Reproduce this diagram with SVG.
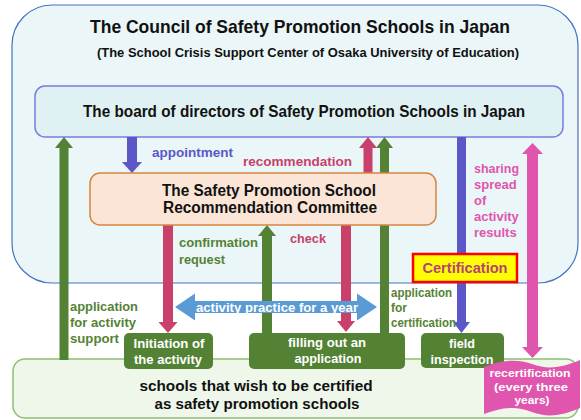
<svg xmlns="http://www.w3.org/2000/svg" width="581" height="420" viewBox="0 0 581 420">
<style>
text{font-family:"Liberation Sans","Noto Sans",Arial,sans-serif;font-weight:bold}
.blk{fill:#111}
.wht{fill:#fff}
.grn{fill:#548235}
.red{fill:#c9406a}
.pur{fill:#5b57c9}
.pnk{fill:#e055ad}
.gbox{fill:#548235}
</style>
<rect x="0" y="0" width="581" height="420" fill="#fff"/>
<g id="council">
<rect x="12" y="5" width="566" height="278" rx="40" ry="40" fill="#eaf6f7" stroke="#4472c4" stroke-width="1.2"/>
<text class="blk" x="300" y="33" font-size="19" text-anchor="middle" textLength="420" lengthAdjust="spacingAndGlyphs">The Council of Safety Promotion Schools in Japan</text>
<text class="blk" x="308" y="57" font-size="13.5" text-anchor="middle" textLength="422" lengthAdjust="spacingAndGlyphs">(The School Crisis Support Center of Osaka University of Education)</text>
</g>
<g id="schools">
<rect x="13" y="359" width="565" height="59" rx="12" ry="12" fill="#eef7e9" stroke="#8fbf72" stroke-width="1.5"/>
<text class="blk" x="256" y="391" font-size="15.5" text-anchor="middle" textLength="233" lengthAdjust="spacingAndGlyphs">schools that wish to be certified</text>
<text class="blk" x="257" y="409" font-size="15.5" text-anchor="middle" textLength="205" lengthAdjust="spacingAndGlyphs">as safety promotion schools</text>
</g>
<g id="board">
<rect x="35" y="86" width="528" height="51" rx="10" ry="10" fill="#dff1f2" stroke="#7b7be0" stroke-width="1.5"/>
<text class="blk" x="304" y="117" font-size="17" text-anchor="middle" textLength="442" lengthAdjust="spacingAndGlyphs">The board of directors of Safety Promotion Schools in Japan</text>
</g>
<g id="connectors">
<polygon fill="#548235" points="59.5,360 59.5,148 55,148 64,137 73,148 68.5,148 68.5,360"/>
<polygon fill="#5b57c9" points="127,137 137,137 137,162 142,162 132,173 122,162 127,162"/>
<polygon fill="#548235" points="380,333 380,148 376,148 384.5,137 393,148 389,148 389,333"/>
<polygon fill="#c9406a" points="363.5,173 363.5,148 359,148 368,137 377,148 372.5,148 372.5,173"/>
<polygon fill="#c9406a" points="163,225 173,225 173,322 177.5,322 168,333 158.5,322 163,322"/>
<polygon fill="#548235" points="262,333 262,236 258,236 267,225 276,236 272,236 272,333"/>
<polygon fill="#c9406a" points="341,225 351,225 351,321 355,321 346,332 337,321 341,321"/>
<polygon fill="#5b57c9" points="457,137 466,137 466,322 470,322 461.5,333 453,322 457,322"/>
<polygon fill="#e055ad" points="532.5,143 543,154 538,154 538,347 543,347 532.5,358 522,347 527,347 527,154 522,154"/>
<polygon fill="#5b9bd5" points="175,307 195,293.5 195,301 357,301 357,293.5 377,307 357,320.5 357,313 195,313 195,320.5"/>
<text class="wht" x="277" y="311.5" font-size="12.5" text-anchor="middle" textLength="162" lengthAdjust="spacingAndGlyphs">activity practice for a year</text>
<text class="pur" x="152" y="157" font-size="13" textLength="81" lengthAdjust="spacingAndGlyphs">appointment</text>
<text class="red" x="243" y="166" font-size="13" textLength="109" lengthAdjust="spacingAndGlyphs">recommendation</text>
<text class="grn" x="179" y="247" font-size="13" textLength="79" lengthAdjust="spacingAndGlyphs">confirmation</text>
<text class="grn" x="179" y="264" font-size="13" textLength="46" lengthAdjust="spacingAndGlyphs">request</text>
<text class="red" x="290" y="243" font-size="13" textLength="36" lengthAdjust="spacingAndGlyphs">check</text>
<text class="grn" x="70" y="311" font-size="13" textLength="68" lengthAdjust="spacingAndGlyphs">application</text>
<text class="grn" x="70" y="327" font-size="13" textLength="66" lengthAdjust="spacingAndGlyphs">for activity</text>
<text class="grn" x="70" y="343" font-size="13" textLength="49" lengthAdjust="spacingAndGlyphs">support</text>
<text class="grn" x="391" y="297" font-size="12" textLength="61" lengthAdjust="spacingAndGlyphs">application</text>
<text class="grn" x="391" y="312" font-size="12">for</text>
<text class="grn" x="391" y="327" font-size="12" textLength="65" lengthAdjust="spacingAndGlyphs">certification</text>
<text class="pnk" x="474" y="173" font-size="13" textLength="45" lengthAdjust="spacingAndGlyphs">sharing</text>
<text class="pnk" x="474" y="189" font-size="13">spread</text>
<text class="pnk" x="474" y="205" font-size="13">of</text>
<text class="pnk" x="474" y="221" font-size="13">activity</text>
<text class="pnk" x="474" y="237" font-size="13">results</text>
</g>
<g id="committee">
<rect x="90" y="173" width="346" height="52" rx="10" ry="10" fill="#fbe5d6" stroke="#d98542" stroke-width="1.5"/>
<text class="blk" x="269" y="196" font-size="16" text-anchor="middle" textLength="214" lengthAdjust="spacingAndGlyphs">The Safety Promotion School</text>
<text class="blk" x="270" y="213" font-size="16" text-anchor="middle" textLength="214" lengthAdjust="spacingAndGlyphs">Recommendation Committee</text>
</g>
<g id="certification">
<rect x="413" y="254" width="104" height="28" fill="#ffff00" stroke="#ff0000" stroke-width="2.5"/>
<text x="465" y="273" font-size="15" text-anchor="middle" fill="#b8407a" textLength="85" lengthAdjust="spacingAndGlyphs">Certification</text>
</g>
<g id="initiation">
<rect x="124" y="333" width="89" height="36" rx="5" ry="5" class="gbox"/>
<text class="wht" x="169" y="348" font-size="13" text-anchor="middle" textLength="71" lengthAdjust="spacingAndGlyphs">Initiation of</text>
<text class="wht" x="168" y="364" font-size="13" text-anchor="middle" textLength="68" lengthAdjust="spacingAndGlyphs">the activity</text>
</g>
<g id="filling">
<rect x="249" y="333" width="156" height="36" rx="5" ry="5" class="gbox"/>
<text class="wht" x="327" y="347" font-size="13" text-anchor="middle" textLength="78" lengthAdjust="spacingAndGlyphs">filling out an</text>
<text class="wht" x="328" y="363" font-size="13" text-anchor="middle" textLength="67" lengthAdjust="spacingAndGlyphs">application</text>
</g>
<g id="field">
<rect x="421" y="333" width="83" height="35" rx="5" ry="5" class="gbox"/>
<text class="wht" x="462" y="348" font-size="13" text-anchor="middle" textLength="26" lengthAdjust="spacingAndGlyphs">field</text>
<text class="wht" x="462" y="364" font-size="13" text-anchor="middle" textLength="63" lengthAdjust="spacingAndGlyphs">inspection</text>
</g>
<g id="recertification">
<path d="M484,367 C500,361 515,358 532,364 C550,371 566,366 580,360 L580,408 C566,414 550,419 532,412 C515,405 500,408 484,414 Z" fill="#e055ad"/>
<text class="wht" x="530" y="377" font-size="11.5" text-anchor="middle" textLength="81" lengthAdjust="spacingAndGlyphs">recertification</text>
<text class="wht" x="531" y="390.5" font-size="11.5" text-anchor="middle" textLength="74" lengthAdjust="spacingAndGlyphs">(every three</text>
<text class="wht" x="532" y="404" font-size="11.5" text-anchor="middle" textLength="35" lengthAdjust="spacingAndGlyphs">years)</text>
</g>
</svg>
